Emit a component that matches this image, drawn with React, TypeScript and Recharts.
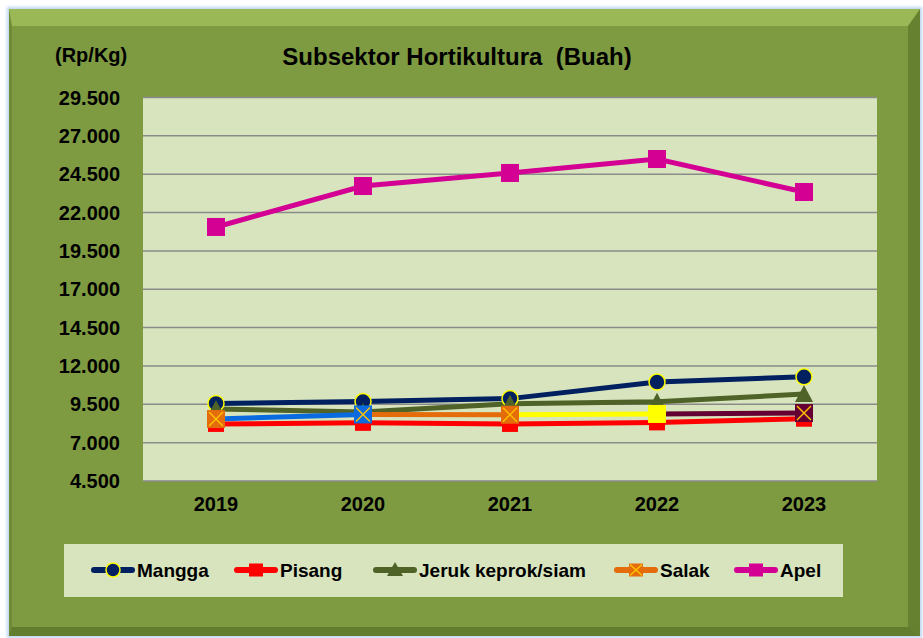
import React from 'react';
import { LineChart, Line, XAxis, YAxis, CartesianGrid } from 'recharts';

const years = ['2019', '2020', '2021', '2022', '2023'];
const mangga = [9560, 9680, 9870, 10950, 11290];
const pisang = [8220, 8290, 8220, 8320, 8560];
const jeruk = [9200, 9000, 9540, 9660, 10170];
const salak = [8540, 8840, 8820, 8870, 8930];
const apel = [21060, 23730, 24580, 25490, 23340];
const yTicks = [4500, 7000, 9500, 12000, 14500, 17000, 19500, 22000, 24500, 27000, 29500];
const seriesNames = ['Mangga', 'Pisang', 'Jeruk keprok/siam', 'Salak', 'Apel'];
const titleText = 'Subsektor Hortikultura  (Buah)';
const unitText = '(Rp/Kg)';

const data = years.map((year, i) => {
  const row: any = {
    year,
    mangga: mangga[i],
    pisang: pisang[i],
    jeruk: jeruk[i],
    salak: salak[i],
    apel: apel[i],
  };
  for (let s = 0; s < years.length - 1; s++) {
    row['salakSeg' + s] = i === s || i === s + 1 ? salak[i] : null;
  }
  return row;
});

const C_MANGGA = '#002060';
const C_PISANG = '#ff0000';
const C_JERUK = '#4f6228';
const C_SALAK = '#e46c0a';
const C_APEL = '#d40093';
const SALAK_POINT = ['#e46c0a', '#0a6be0', '#e46c0a', '#ffff00', '#640032'];
const SALAK_X = ['#ffc000', '#ffc000', '#ffc000', '#ffff00', '#ffc000'];
const FONT = '"Liberation Sans", Arial, Helvetica, sans-serif';

const fmt = (v: number) => String(v).replace(/\B(?=(\d{3})+(?!\d))/g, '.');

const CircleDot = (p: any) => (
  <circle key={'c' + p.index} cx={p.cx} cy={p.cy} r={8} fill={C_MANGGA} stroke="#ffff00" strokeWidth={1.5} />
);
const squareDot = (color: string, size: number) => (p: any) => (
  <rect key={'s' + p.index} x={p.cx - size / 2} y={p.cy - size / 2} width={size} height={size} fill={color} />
);
const TriDot = (p: any) => (
  <path
    key={'t' + p.index}
    d={`M${p.cx},${p.cy - 9} L${p.cx + 9},${p.cy + 8} L${p.cx - 9},${p.cy + 8} Z`}
    fill={C_JERUK}
  />
);
const SalakDot = (p: any) => {
  const s = 18;
  const x = p.cx - s / 2;
  const y = p.cy - s / 2;
  const c = SALAK_POINT[p.index];
  const xc = SALAK_X[p.index];
  return (
    <g key={'x' + p.index}>
      <rect x={x} y={y} width={s} height={s} fill={c} />
      <line x1={x + 2} y1={y + 2} x2={x + s - 2} y2={y + s - 2} stroke={xc} strokeWidth={1.5} />
      <line x1={x + s - 2} y1={y + 2} x2={x + 2} y2={y + s - 2} stroke={xc} strokeWidth={1.5} />
    </g>
  );
};

const LegendIcon = ({ kind }: { kind: number }) => {
  const colors = [C_MANGGA, C_PISANG, C_JERUK, C_SALAK, C_APEL];
  const c = colors[kind];
  let marker: any = null;
  if (kind === 0) marker = <circle cx={22} cy={8} r={7} fill={C_MANGGA} stroke="#ffff00" strokeWidth={1.5} />;
  else if (kind === 1 || kind === 4) marker = <rect x={15} y={1.5} width={14} height={13} fill={c} />;
  else if (kind === 2) marker = <path d="M22,0 L30,14 L14,14 Z" fill={C_JERUK} />;
  else
    marker = (
      <g>
        <rect x={15} y={1.5} width={14} height={13} fill={C_SALAK} />
        <line x1={16} y1={2.5} x2={28} y2={13.5} stroke="#ffc000" strokeWidth={1.5} />
        <line x1={28} y1={2.5} x2={16} y2={13.5} stroke="#ffc000" strokeWidth={1.5} />
      </g>
    );
  return (
    <svg width={44} height={16} style={{ position: 'absolute', left: -1, top: 0, overflow: 'visible' }}>
      <line x1={3} y1={8} x2={41} y2={8} stroke={c} strokeWidth={6} strokeLinecap="round" />
      {marker}
    </svg>
  );
};

const legendX = [92, 235, 374, 615, 735];

export default function App() {
  return (
    <div style={{ position: 'absolute', left: 0, top: 0, width: 923, height: 638, background: '#ffffff', overflow: 'hidden', fontFamily: FONT }}>
      <div
        style={{
          position: 'absolute',
          left: 9,
          top: 9,
          width: 911,
          height: 627,
          boxSizing: 'border-box',
          background: '#7e9b42',
          borderTop: '17px solid #9ab956',
          borderLeft: '3px solid #6f8b37',
          borderRight: '12px solid #66812f',
          borderBottom: '9px solid #627d2d',
          boxShadow: '0 0 3px 2px #bcd4f0',
        }}
      />
      <div style={{ position: 'absolute', left: 64, top: 544, width: 779, height: 53, background: '#d7e4bd' }} />
      <div style={{ position: 'absolute', left: 0, top: 0 }}>
        <LineChart width={923} height={638} data={data} margin={{ top: 97.5, right: 46, bottom: 117, left: 0 }}>
          <CartesianGrid vertical={false} stroke="#8a8a8a" strokeWidth={1.5} fill="#d7e4bd" />
          <XAxis
            dataKey="year"
            axisLine={false}
            tickLine={false}
            tickSize={0}
            tickMargin={16}
            height={40}
            padding={{ left: 73, right: 73 }}
            tick={{ fill: '#000', fontSize: 20, fontWeight: 'bold', fontFamily: FONT }}
          />
          <YAxis
            domain={[4500, 29500]}
            ticks={yTicks}
            interval={0}
            width={143}
            axisLine={false}
            tickLine={false}
            tickSize={0}
            tickMargin={23}
            tickFormatter={fmt}
            allowDataOverflow
            tick={{ fill: '#000', fontSize: 20, fontWeight: 'bold', fontFamily: FONT }}
          />
          <Line dataKey="mangga" stroke={C_MANGGA} strokeWidth={5} dot={CircleDot} isAnimationActive={false} />
          <Line dataKey="pisang" stroke={C_PISANG} strokeWidth={5} dot={squareDot(C_PISANG, 16)} isAnimationActive={false} />
          <Line dataKey="jeruk" stroke={C_JERUK} strokeWidth={5} dot={TriDot} isAnimationActive={false} />
          {years.slice(1).map((_, s) => (
            <Line
              key={'seg' + s}
              dataKey={'salakSeg' + s}
              stroke={SALAK_POINT[s + 1]}
              strokeWidth={5}
              dot={false}
              isAnimationActive={false}
            />
          ))}
          <Line dataKey="salak" stroke="none" strokeWidth={0} dot={SalakDot} isAnimationActive={false} />
          <Line dataKey="apel" stroke={C_APEL} strokeWidth={5} dot={squareDot(C_APEL, 18)} isAnimationActive={false} />
        </LineChart>
      </div>
      <div style={{ position: 'absolute', left: 55, top: 45, fontSize: 20, lineHeight: '20px', fontWeight: 'bold', color: '#000', whiteSpace: 'pre' }}>
        {unitText}
      </div>
      <div style={{ position: 'absolute', left: 157, width: 600, top: 45, fontSize: 24, lineHeight: '24px', fontWeight: 'bold', color: '#000', textAlign: 'center', whiteSpace: 'pre' }}>
        {titleText}
      </div>
      {seriesNames.map((name, i) => (
        <div key={name} style={{ position: 'absolute', left: legendX[i], top: 562, height: 19 }}>
          <LegendIcon kind={i} />
          <div style={{ position: 'absolute', left: 45, top: -1, fontSize: 19, lineHeight: '19px', fontWeight: 'bold', color: '#000', whiteSpace: 'pre' }}>
            {name}
          </div>
        </div>
      ))}
    </div>
  );
}
